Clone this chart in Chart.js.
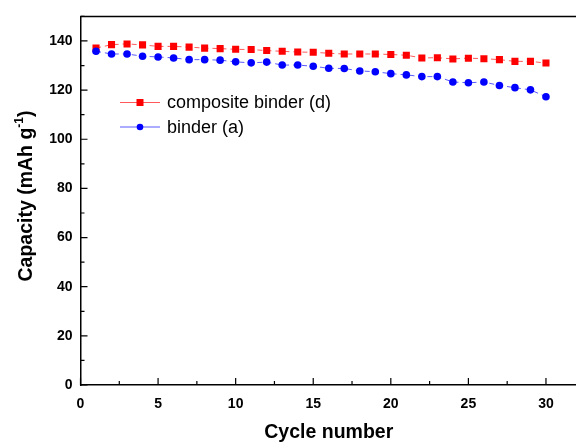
<!DOCTYPE html>
<html>
<head>
<meta charset="utf-8">
<script src="https://cdn.jsdelivr.net/npm/chart.js@4"></script>
<style>
  html,body{margin:0;padding:0;background:#fff;overflow:hidden;}
  #wrap{width:582px;height:444px;}
</style>
</head>
<body>
<div id="wrap"><canvas id="c" width="582" height="444"></canvas></div>
<script>
/* ---- DATA ---- */
const cycles = [1,2,3,4,5,6,7,8,9,10,11,12,13,14,15,16,17,18,19,20,21,22,23,24,25,26,27,28,29,30];
const compositeCap = [137.1,138.5,138.8,138.4,137.8,137.8,137.5,137.1,136.9,136.6,
                      136.5,136.1,135.8,135.5,135.4,135.0,134.7,134.7,134.7,134.5,
                      134.2,133.1,133.2,132.7,133.0,132.8,132.4,131.7,131.7,131.0];
const binderCap = [135.8,134.7,134.7,133.8,133.5,133.1,132.4,132.4,132.2,131.5,
                   131.1,131.4,130.2,130.2,129.7,128.9,128.8,127.8,127.5,126.7,
                   126.2,125.5,125.5,123.3,123.0,123.3,121.9,121.0,120.1,117.3];
const seriesNames = ["composite binder (d)", "binder (a)"];
const xTicks = [0,5,10,15,20,25,30];
const yTicks = [0,20,40,60,80,100,120,140];

const FONT = "'Liberation Sans', Arial, sans-serif";

// inward major/minor ticks, top frame line, y title with superscript
const frame = {
  id:"frame",
  afterDraw(chart){
    const {ctx, chartArea:a, scales:{x, y}} = chart;
    ctx.save();
    ctx.strokeStyle = "#000";
    ctx.lineWidth = 1.5;
    ctx.beginPath();
    ctx.moveTo(a.left, a.top); ctx.lineTo(a.right, a.top);
    ctx.stroke();
    ctx.lineWidth = 1.2;
    ctx.beginPath();
    xTicks.forEach(v=>{
      const px = x.getPixelForValue(v);
      ctx.moveTo(px, a.bottom); ctx.lineTo(px, a.bottom-7);
      const mx = x.getPixelForValue(v+2.5);
      if(mx < a.right){ ctx.moveTo(mx, a.bottom); ctx.lineTo(mx, a.bottom-4); }
    });
    yTicks.forEach(v=>{
      const py = y.getPixelForValue(v);
      ctx.moveTo(a.left, py); ctx.lineTo(a.left+7, py);
      const my = y.getPixelForValue(v+10);
      ctx.moveTo(a.left, my); ctx.lineTo(a.left+4, my);
    });
    ctx.stroke();

    ctx.translate(32, 196);
    ctx.rotate(-Math.PI/2);
    ctx.fillStyle = "#000";
    ctx.textBaseline = "alphabetic";
    const big = "bold 19.5px " + FONT, small = "bold 12px " + FONT;
    const p1 = "Capacity (mAh g", sup = "-1", p2 = ")";
    ctx.font = big; const w1 = ctx.measureText(p1).width, w3 = ctx.measureText(p2).width;
    ctx.font = small; const w2 = ctx.measureText(sup).width;
    const sx = -(w1+w2+w3)/2;
    ctx.textAlign = "left";
    ctx.font = big; ctx.fillText(p1, sx, 0);
    ctx.font = small; ctx.fillText(sup, sx+w1, -9);
    ctx.font = big; ctx.fillText(p2, sx+w1+w2, 0);
    ctx.restore();
  }
};

// legend drawn inside the plot area
const innerLegend = {
  id:"innerLegend",
  afterDraw(chart){
    const {ctx} = chart;
    ctx.save();
    const rows = [102.5, 127];
    chart.data.datasets.forEach((ds, i)=>{
      const yy = rows[i];
      ctx.strokeStyle = ds.borderColor;
      ctx.lineWidth = 1;
      ctx.beginPath(); ctx.moveTo(120, yy); ctx.lineTo(160, yy); ctx.stroke();
      ctx.fillStyle = ds.pointBackgroundColor;
      if(ds.pointStyle === "rect"){ ctx.fillRect(136.5, yy-3.5, 7, 7); }
      else { ctx.beginPath(); ctx.arc(140, yy, 3.3, 0, Math.PI*2); ctx.fill(); }
      ctx.fillStyle = "#000";
      ctx.font = "18px " + FONT;
      ctx.textBaseline = "middle";
      ctx.fillText(ds.label, 167, yy+1);
    });
    ctx.restore();
  }
};

new Chart(document.getElementById("c"), {
  type:"line",
  data:{
    labels:cycles,
    datasets:[
      {label:seriesNames[0], data:cycles.map((c,i)=>({x:c, y:compositeCap[i]})),
       borderColor:"rgba(255,60,60,0.85)", borderWidth:1, borderDash:[5,4],
       pointStyle:"rect", pointRadius:5, pointBackgroundColor:"#ff0000", pointBorderColor:"#ff0000", pointBorderWidth:0,
       order:1},
      {label:seriesNames[1], data:cycles.map((c,i)=>({x:c, y:binderCap[i]})),
       borderColor:"rgba(60,60,255,0.85)", borderWidth:1, borderDash:[5,4],
       pointStyle:"circle", pointRadius:3.8, pointBackgroundColor:"#0000ff", pointBorderColor:"#0000ff", pointBorderWidth:0,
       order:0},
    ]
  },
  options:{
    responsive:false,
    animation:false,
    layout:{padding:{top:14, right:0, left:0, bottom:0}},
    plugins:{legend:{display:false}, tooltip:{enabled:false}},
    scales:{
      x:{
        type:"linear", min:0, max:32,
        afterBuildTicks(s){ s.ticks = xTicks.map(v=>({value:v})); },
        afterFit(s){ s.height = 59; },
        grid:{display:false, drawTicks:false},
        border:{display:true, color:"#000", width:1.5},
        ticks:{padding:11, color:"#000", font:{family:FONT, size:14, weight:"bold"}},
        title:{display:true, text:"Cycle number", color:"#000", padding:{top:0,bottom:0},
               font:{family:FONT, size:19.5, weight:"bold"}}
      },
      y:{
        min:0, max:150,
        afterBuildTicks(s){ s.ticks = yTicks.map(v=>({value:v})); },
        afterFit(s){ s.width = 80.5; },
        grid:{display:false, drawTicks:false},
        border:{display:true, color:"#000", width:1.5},
        ticks:{padding:8, color:"#000", font:{family:FONT, size:14, weight:"bold"}}
      }
    }
  },
  plugins:[frame, innerLegend]
});
</script>
</body>
</html>
